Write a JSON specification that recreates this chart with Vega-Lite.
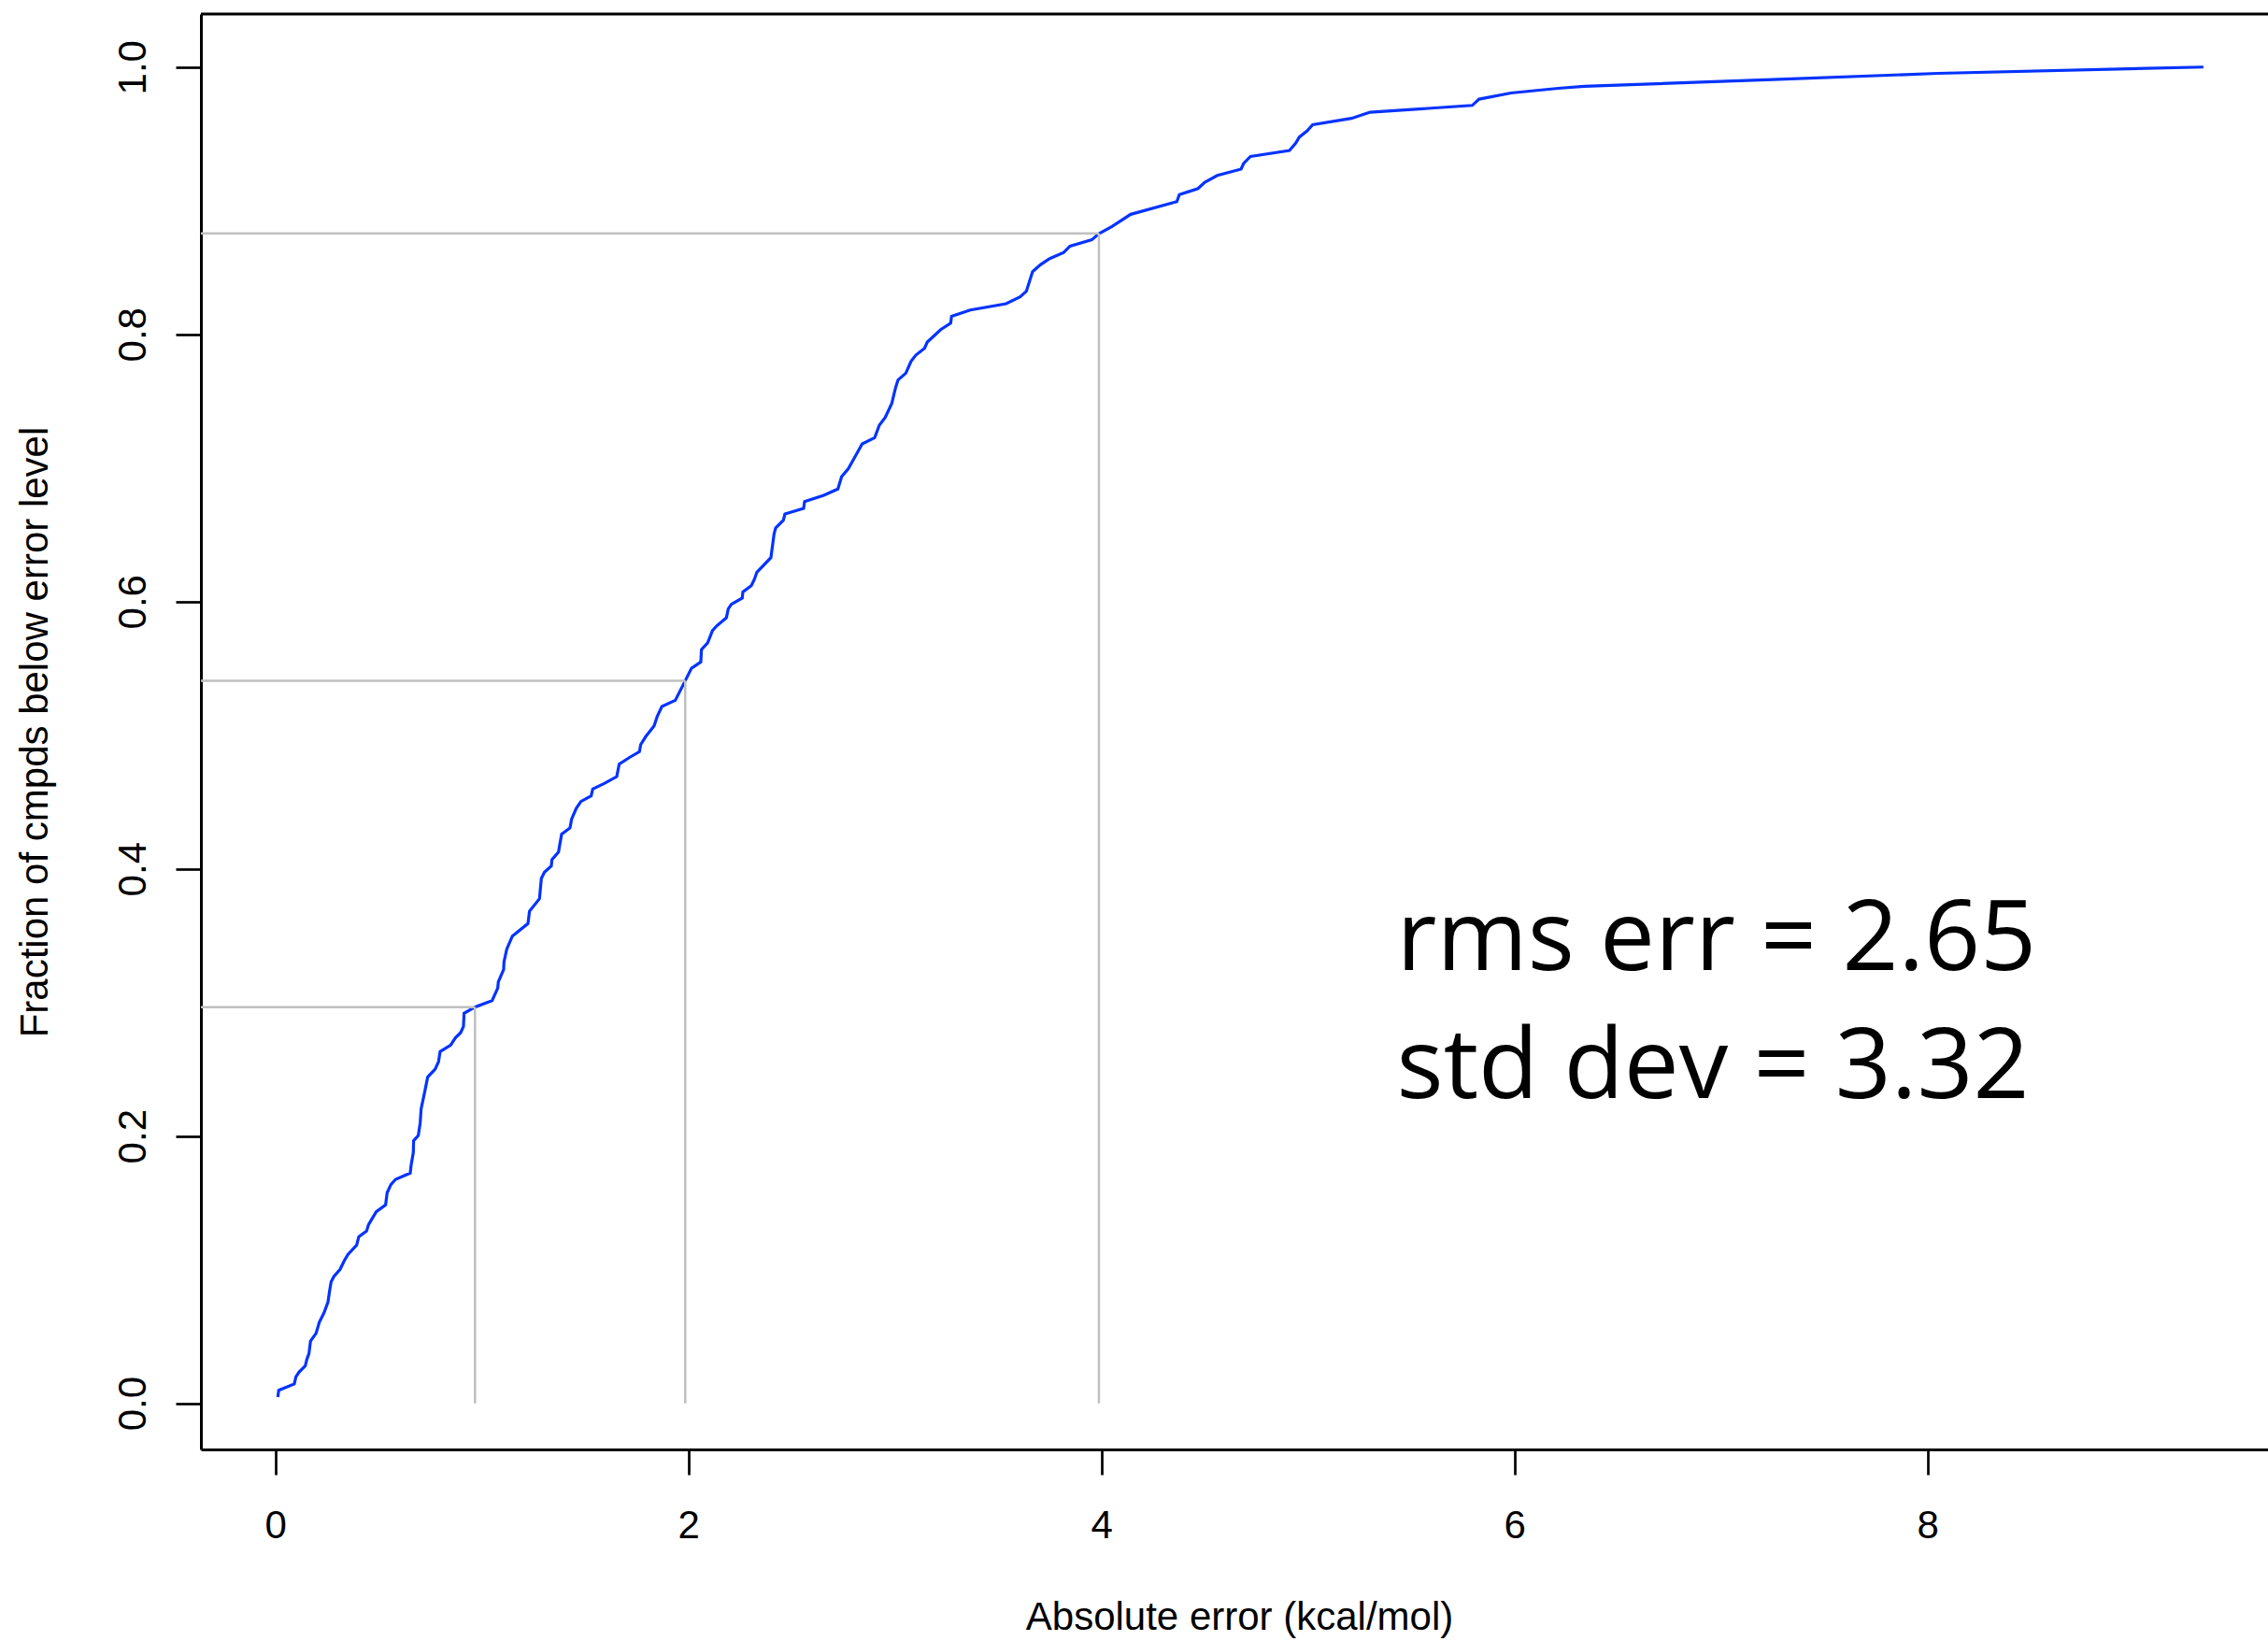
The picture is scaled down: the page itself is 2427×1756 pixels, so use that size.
{
  "$schema": "https://vega.github.io/schema/vega-lite/v6.json",
  "autosize": {"type": "none"},
  "padding": {"left": 215, "top": 15, "right": 0, "bottom": 205},
  "width": 2212,
  "height": 1536,
  "background": "white",
  "config": {
    "view": {"stroke": null},
    "axis": {
      "grid": false,
      "domainColor": "black",
      "domainWidth": 3,
      "tickColor": "black",
      "tickWidth": 2.7,
      "tickSize": 27,
      "labelColor": "black",
      "titleColor": "black",
      "labelFont": "Liberation Sans",
      "titleFont": "Liberation Sans",
      "labelFontSize": 42,
      "titleFontSize": 42,
      "titleFontWeight": "normal",
      "labelFlush": false,
      "labelOverlap": false
    }
  },
  "datasets": {
    "curve": [
      {"e":0.0124,"f":0.0047},{"e":0.0169,"f":0.0098},{"e":0.0923,"f":0.0145},{"e":0.0999,"f":0.0198},
      {"e":0.1149,"f":0.0233},{"e":0.1451,"f":0.0280},{"e":0.1526,"f":0.0327},{"e":0.1632,"f":0.0373},
      {"e":0.1707,"f":0.0466},{"e":0.1979,"f":0.0525},{"e":0.2130,"f":0.0606},{"e":0.2356,"f":0.0676},
      {"e":0.2552,"f":0.0758},{"e":0.2628,"f":0.0839},{"e":0.2703,"f":0.0909},{"e":0.2838,"f":0.0949},
      {"e":0.3140,"f":0.1003},{"e":0.3336,"f":0.1066},{"e":0.3517,"f":0.1114},{"e":0.3940,"f":0.1184},
      {"e":0.4045,"f":0.1247},{"e":0.4422,"f":0.1289},{"e":0.4513,"f":0.1336},{"e":0.4694,"f":0.1383},
      {"e":0.4890,"f":0.1434},{"e":0.5342,"f":0.1485},{"e":0.5418,"f":0.1576},{"e":0.5599,"f":0.1637},
      {"e":0.5825,"f":0.1676},{"e":0.6534,"f":0.1723},{"e":0.6579,"f":0.1783},{"e":0.6685,"f":0.1877},
      {"e":0.6700,"f":0.1965},{"e":0.6926,"f":0.2005},{"e":0.7017,"f":0.2098},{"e":0.7062,"f":0.2203},
      {"e":0.7243,"f":0.2336},{"e":0.7379,"f":0.2441},{"e":0.7741,"f":0.2501},{"e":0.7906,"f":0.2557},
      {"e":0.7982,"f":0.2632},{"e":0.8494,"f":0.2681},{"e":0.8721,"f":0.2735},{"e":0.8977,"f":0.2774},
      {"e":0.9113,"f":0.2821},{"e":0.9143,"f":0.2919},{"e":0.9671,"f":0.2965},{"e":1.0501,"f":0.3014},
      {"e":1.0772,"f":0.3107},{"e":1.0802,"f":0.3154},{"e":1.1059,"f":0.3247},{"e":1.1074,"f":0.3303},
      {"e":1.1209,"f":0.3399},{"e":1.1481,"f":0.3497},{"e":1.2235,"f":0.3590},{"e":1.2311,"f":0.3683},
      {"e":1.2793,"f":0.3776},{"e":1.2884,"f":0.3928},{"e":1.3035,"f":0.3975},{"e":1.3367,"f":0.4021},
      {"e":1.3397,"f":0.4068},{"e":1.3714,"f":0.4126},{"e":1.3864,"f":0.4259},{"e":1.4271,"f":0.4306},
      {"e":1.4347,"f":0.4371},{"e":1.4573,"f":0.4452},{"e":1.4799,"f":0.4504},{"e":1.5297,"f":0.4546},
      {"e":1.5372,"f":0.4597},{"e":1.5930,"f":0.4639},{"e":1.6534,"f":0.4690},{"e":1.6654,"f":0.4783},
      {"e":1.7137,"f":0.4832},{"e":1.7635,"f":0.4877},{"e":1.7695,"f":0.4930},{"e":1.7937,"f":0.4989},
      {"e":1.8344,"f":0.5070},{"e":1.8495,"f":0.5140},{"e":1.8721,"f":0.5215},{"e":1.9370,"f":0.5261},
      {"e":1.9852,"f":0.5408},{"e":2.0154,"f":0.5501},{"e":2.0606,"f":0.5548},{"e":2.0636,"f":0.5641},
      {"e":2.0938,"f":0.5692},{"e":2.1164,"f":0.5781},{"e":2.1360,"f":0.5816},{"e":2.1843,"f":0.5879},
      {"e":2.1933,"f":0.5944},{"e":2.2084,"f":0.5979},{"e":2.2612,"f":0.6026},{"e":2.2642,"f":0.6072},
      {"e":2.3050,"f":0.6119},{"e":2.3200,"f":0.6166},{"e":2.3321,"f":0.6220},{"e":2.4000,"f":0.6329},
      {"e":2.4151,"f":0.6504},{"e":2.4226,"f":0.6550},{"e":2.4603,"f":0.6609},{"e":2.4679,"f":0.6655},
      {"e":2.5584,"f":0.6697},{"e":2.5629,"f":0.6748},{"e":2.6564,"f":0.6795},{"e":2.7243,"f":0.6842},
      {"e":2.7424,"f":0.6935},{"e":2.7741,"f":0.6993},{"e":2.7997,"f":0.7063},{"e":2.8419,"f":0.7180},
      {"e":2.9023,"f":0.7226},{"e":2.9249,"f":0.7320},{"e":2.9535,"f":0.7378},{"e":2.9852,"f":0.7483},
      {"e":3.0033,"f":0.7599},{"e":3.0154,"f":0.7658},{"e":3.0531,"f":0.7709},{"e":3.0787,"f":0.7798},
      {"e":3.1014,"f":0.7844},{"e":3.1436,"f":0.7895},{"e":3.1572,"f":0.7942},{"e":3.2221,"f":0.8035},
      {"e":3.2703,"f":0.8084},{"e":3.2748,"f":0.8135},{"e":3.3653,"f":0.8182},{"e":3.5388,"f":0.8229},
      {"e":3.6066,"f":0.8280},{"e":3.6368,"f":0.8322},{"e":3.6670,"f":0.8469},{"e":3.7047,"f":0.8520},
      {"e":3.7500,"f":0.8567},{"e":3.8178,"f":0.8613},{"e":3.8480,"f":0.8660},{"e":3.9536,"f":0.8707},
      {"e":3.9882,"f":0.8753},{"e":4.0516,"f":0.8807},{"e":4.1421,"f":0.8898},{"e":4.3656,"f":0.8993},
      {"e":4.3778,"f":0.9045},{"e":4.4679,"f":0.9091},{"e":4.5009,"f":0.9138},{"e":4.5611,"f":0.9189},
      {"e":4.6765,"f":0.9236},{"e":4.6887,"f":0.9278},{"e":4.7217,"f":0.9331},{"e":4.9109,"f":0.9376},
      {"e":4.9407,"f":0.9429},{"e":4.9588,"f":0.9476},{"e":4.9964,"f":0.9522},{"e":5.0231,"f":0.9569},
      {"e":5.2109,"f":0.9616},{"e":5.3009,"f":0.9662},{"e":5.7959,"f":0.9713},{"e":5.8290,"f":0.9760},
      {"e":5.9837,"f":0.9806},{"e":6.2118,"f":0.9841},{"e":6.3376,"f":0.9856},{"e":7.25,"f":0.9906},
      {"e":8.05,"f":0.9953},{"e":9.3362,"f":1.0}
    ],
    "guides": [
      {"e": 0.9671, "f": 0.2965},
      {"e": 1.9852, "f": 0.5408},
      {"e": 3.9882, "f": 0.8756}
    ]
  },
  "layer": [
    {
      "data": {"name": "curve"},
      "mark": {"type": "line", "color": "#0433ff", "strokeWidth": 3.2, "interpolate": "linear"},
      "encoding": {
        "x": {"field": "e", "type": "quantitative",
              "scale": {"domain": [-0.36, 9.649], "nice": false, "zero": false},
              "axis": {"orient": "bottom", "title": "Absolute error (kcal/mol)", "values": [0, 2, 4, 6, 8], "format": "d",
                       "labelPadding": 67, "labelBaseline": "alphabetic",
                       "titleX": 1111, "titleY": 192, "titleBaseline": "alphabetic", "titleAlign": "center"}},
        "y": {"field": "f", "type": "quantitative",
              "scale": {"domain": [-0.0345, 1.0397], "nice": false, "zero": false},
              "axis": {"orient": "left", "title": "Fraction of cmpds below error level", "values": [0, 0.2, 0.4, 0.6, 0.8, 1.0], "format": ".1f",
                       "labelAngle": 270, "labelAlign": "center", "labelBaseline": "alphabetic", "labelPadding": 33,
                       "titleAngle": 270, "titleX": -165, "titleY": 768, "titleBaseline": "alphabetic", "titleAlign": "center"}}
      }
    },
    {
      "data": {"name": "guides"},
      "mark": {"type": "rule", "color": "#c0c0c0", "strokeWidth": 2.5},
      "encoding": {
        "x": {"field": "e", "type": "quantitative", "scale": {"domain": [-0.36, 9.649], "nice": false, "zero": false}},
        "y": {"field": "f", "type": "quantitative", "scale": {"domain": [-0.0345, 1.0397], "nice": false, "zero": false}},
        "y2": {"datum": 0}
      }
    },
    {
      "data": {"name": "guides"},
      "mark": {"type": "rule", "color": "#c0c0c0", "strokeWidth": 2.5},
      "encoding": {
        "x": {"field": "e", "type": "quantitative", "scale": {"domain": [-0.36, 9.649], "nice": false, "zero": false}},
        "x2": {"datum": -0.36},
        "y": {"field": "f", "type": "quantitative", "scale": {"domain": [-0.0345, 1.0397], "nice": false, "zero": false}}
      }
    },
    {
      "data": {"values": [{"f": 1.0397}]},
      "mark": {"type": "rule", "color": "black", "strokeWidth": 3},
      "encoding": {
        "y": {"field": "f", "type": "quantitative", "scale": {"domain": [-0.0345, 1.0397], "nice": false, "zero": false}}
      }
    },
    {
      "data": {"values": [{"t": "rms err = 2.65", "e": 5.43, "f": 0.3243}, {"t": "std dev = 3.32", "e": 5.43, "f": 0.2283}]},
      "mark": {"type": "text", "font": "Open Sans", "fontSize": 105, "align": "left", "baseline": "alphabetic", "color": "black"},
      "encoding": {
        "x": {"field": "e", "type": "quantitative", "scale": {"domain": [-0.36, 9.649], "nice": false, "zero": false}},
        "y": {"field": "f", "type": "quantitative", "scale": {"domain": [-0.0345, 1.0397], "nice": false, "zero": false}},
        "text": {"field": "t"}
      }
    }
  ]
}
